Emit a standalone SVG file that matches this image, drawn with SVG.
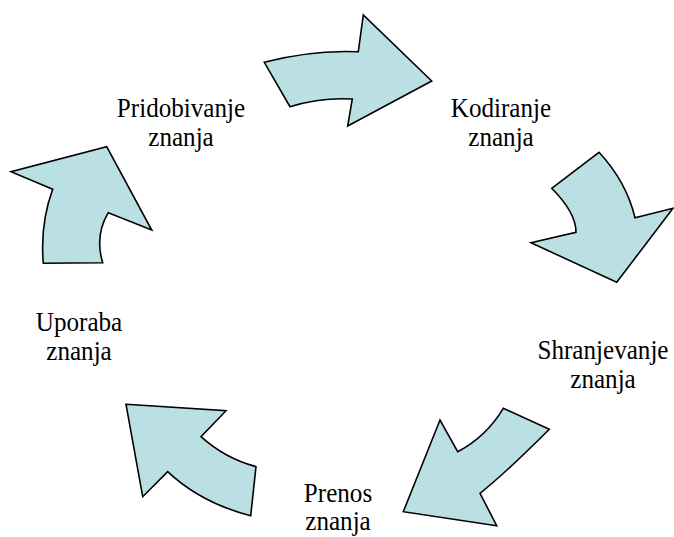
<svg xmlns="http://www.w3.org/2000/svg" width="674" height="537" viewBox="0 0 674 537">
<style>
.arr{fill:#BBE0E3;stroke:#000;stroke-width:1.6;stroke-linejoin:miter}
text{font-family:'Liberation Serif',serif;font-size:27px;fill:#000;text-anchor:middle}
</style>
<rect width="674" height="537" fill="#fff"/>
<g id="connectors">
<path id="arrow1" class="arr" d="M264.3,62.3 Q311.3,49.7 358.3,51.7 L363.3,15 L431.7,81 L347.7,126 L352.3,99 Q320.8,97.2 290,106.7 Z"/>
<path id="arrow2" class="arr" d="M551.7,188.3 L599,152.3 Q626.3,181.7 635,217.7 L673,208.3 L616.7,282.3 L531,242.7 L576,232.3 Q576.2,213 551.7,188.3 Z"/>
<path id="arrow3" class="arr" d="M503.3,408.3 L549.3,429.3 Q505.3,473.3 480,493.3 L496.7,525.7 L403.3,511.7 L440,420 L457.7,451.7 Q486.2,436.7 503.3,408.3 Z"/>
<path id="arrow4" class="arr" d="M126,404.3 L226,410.7 L201,436.7 Q224.8,458.3 256,466.7 L250.7,515.7 Q200.8,503 167.7,471.7 L142.7,496.7 Z"/>
<path id="arrow5" class="arr" d="M106.7,146.7 L151.7,230 L108.3,212.7 Q94.5,235.7 102.7,262.7 L43.3,263.3 Q40,223.7 52.7,189.3 L11,171.7 Z"/>
</g>
<g id="node-pridobivanje" transform="translate(181 0) scale(0.93 1)"><text x="0" y="117">Pridobivanje</text><text x="0" y="146">znanja</text></g>
<g id="node-kodiranje" transform="translate(501 0) scale(0.93 1)"><text x="0" y="117">Kodiranje</text><text x="0" y="146">znanja</text></g>
<g id="node-shranjevanje" transform="translate(603 0) scale(0.93 1)"><text x="0" y="359">Shranjevanje</text><text x="0" y="388">znanja</text></g>
<g id="node-prenos" transform="translate(338 0) scale(0.93 1)"><text x="0" y="502">Prenos</text><text x="0" y="530">znanja</text></g>
<g id="node-uporaba" transform="translate(79 0) scale(0.93 1)"><text x="0" y="331">Uporaba</text><text x="0" y="360">znanja</text></g>
</svg>
